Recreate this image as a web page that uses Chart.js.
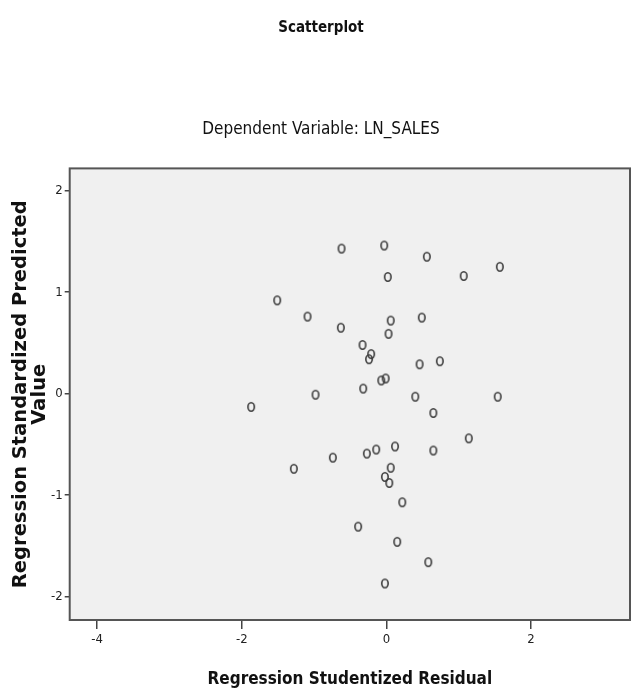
<!DOCTYPE html>
<html lang="en">
<head>
  <meta charset="UTF-8">
  <title>Scatterplot</title>
  <script src="https://cdn.jsdelivr.net/npm/chart.js"></script>
  <style>
    html, body {
      margin: 0;
      padding: 0;
      background: #fff;
    }
    .chart-box {
      width: 636px;
      height: 690px;
    }
  </style>
</head>
<body>
  <div class="chart-box"><canvas id="scatterChart"></canvas></div>

  <script>
    // studentized residual (x) vs standardized predicted value (y)
    const residuals = [-1.51, -1.09, -0.98, -1.87, -1.28, -0.62, -0.03, 0.56, 0.02, 1.07,
                       1.57, -0.63, 0.06, 0.49, 0.03, -0.33, -0.21, -0.24, 0.46, 0.74,
                       -0.01, -0.07, -0.32, 0.40, 1.54, 0.65, 1.14, -0.74, -0.27, -0.14,
                       0.12, 0.65, 0.06, -0.02, 0.04, 0.22, -0.39, 0.15, 0.58, -0.02];
    const predicted = [0.92, 0.76, -0.01, -0.13, -0.74, 1.43, 1.46, 1.35, 1.15, 1.16,
                       1.25, 0.65, 0.72, 0.75, 0.59, 0.48, 0.39, 0.34, 0.29, 0.32,
                       0.15, 0.13, 0.05, -0.03, -0.03, -0.19, -0.44, -0.63, -0.59, -0.55,
                       -0.52, -0.56, -0.73, -0.82, -0.88, -1.07, -1.31, -1.46, -1.66, -1.87];
    const xTicks = [-4, -2, 0, 2];
    const yTicks = [-2, -1, 0, 1, 2];
    const xRange = [-4.38, 3.37];
    const yRange = [-2.23, 2.22];

    const narrow = "'Liberation Sans Narrow', 'Arial Narrow', 'DejaVu Sans Condensed', sans-serif";
    const wide = "'DejaVu Sans', 'Liberation Sans', sans-serif";

    // hollow oval marker, a bit taller than wide like the SPSS output
    function ovalMarker() {
      const c = document.createElement('canvas');
      c.width = 10;
      c.height = 12;
      const ctx = c.getContext('2d');
      ctx.strokeStyle = '#3a3a3a';
      ctx.lineWidth = 1.6;
      ctx.beginPath();
      ctx.ellipse(5, 6, 3.2, 4.2, 0, 0, Math.PI * 2);
      ctx.stroke();
      return c;
    }

    const plotFrame = {
      id: 'plotFrame',
      beforeDraw(chart) {
        const { ctx, chartArea: a } = chart;
        ctx.save();
        ctx.fillStyle = '#f0f0f0';
        ctx.fillRect(a.left, a.top, a.width, a.height);
        ctx.restore();
      },
      beforeDatasetsDraw(chart) {
        const { ctx, chartArea: a } = chart;
        ctx.save();
        ctx.strokeStyle = '#555';
        ctx.lineWidth = 2;
        ctx.strokeRect(a.left, a.top, a.width, a.height);
        ctx.restore();
      }
    };

    const points = residuals.map((x, i) => ({ x: x, y: predicted[i] }));

    new Chart(document.getElementById('scatterChart').getContext('2d'), {
      type: 'scatter',
      data: {
        datasets: [{
          data: points,
          pointStyle: ovalMarker(),
          pointRadius: 5,
          pointHoverRadius: 5
        }]
      },
      options: {
        responsive: true,
        maintainAspectRatio: false,
        animation: false,
        layout: { padding: { top: 8, right: 6, bottom: 0, left: 12 } },
        plugins: {
          legend: { display: false },
          tooltip: { enabled: false },
          title: {
            display: true,
            text: 'Scatterplot',
            color: '#111',
            font: { family: narrow, size: 15, weight: 'bold' },
            padding: { top: 11, bottom: 80 }
          },
          subtitle: {
            display: true,
            text: 'Dependent Variable: LN_SALES',
            color: '#111',
            font: { family: narrow, size: 17 },
            padding: { top: 2, bottom: 29 }
          }
        },
        scales: {
          x: {
            type: 'linear',
            min: xRange[0],
            max: xRange[1],
            afterBuildTicks: (axis) => { axis.ticks = xTicks.map(v => ({ value: v })); },
            grid: { drawOnChartArea: false, drawTicks: true, tickLength: 9, color: '#444', lineWidth: 1.5 },
            border: { display: false },
            ticks: { color: '#222', font: { family: narrow, size: 13 }, padding: 3, maxRotation: 0 },
            title: {
              display: true,
              text: 'Regression Studentized Residual',
              color: '#111',
              font: { family: narrow, size: 17, weight: 'bold' },
              padding: { top: 19, bottom: 0 }
            }
          },
          y: {
            type: 'linear',
            min: yRange[0],
            max: yRange[1],
            afterBuildTicks: (axis) => { axis.ticks = yTicks.map(v => ({ value: v })); },
            grid: { drawOnChartArea: false, drawTicks: true, tickLength: 5, color: '#444', lineWidth: 1.5 },
            border: { display: false },
            ticks: { color: '#222', font: { family: narrow, size: 13 }, padding: 2 },
            title: {
              display: true,
              text: ['Regression Standardized Predicted', 'Value'],
              color: '#111',
              font: { family: wide, size: 19.5, weight: 'bold', lineHeight: 0.95 },
              padding: { top: 0, bottom: 0 }
            }
          }
        }
      },
      plugins: [plotFrame]
    });
  </script>
</body>
</html>
